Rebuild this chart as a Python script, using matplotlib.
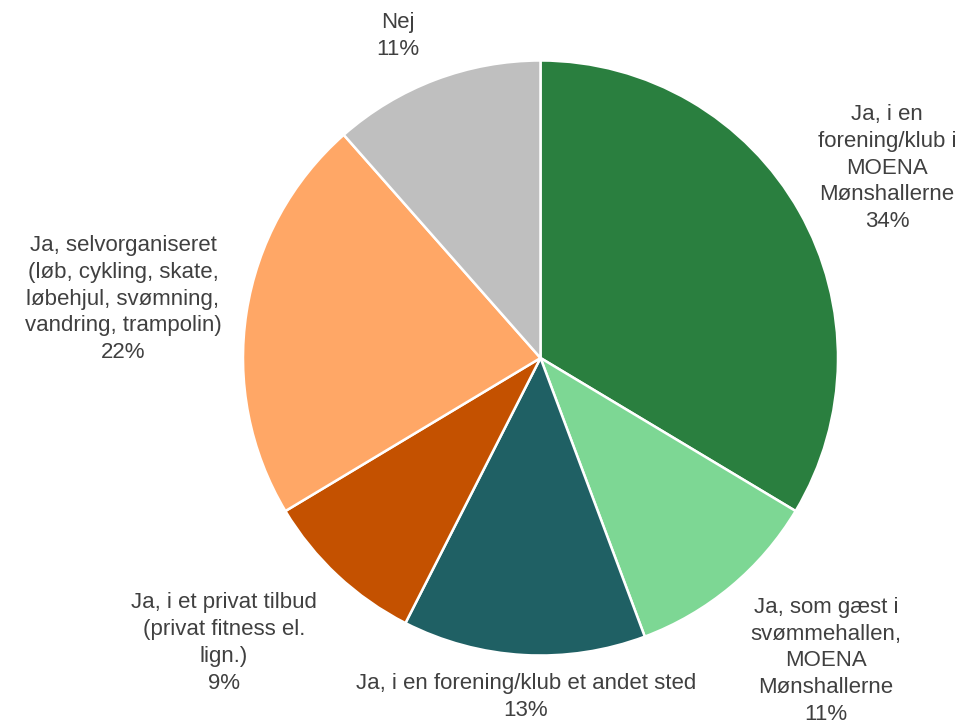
import matplotlib
matplotlib.use("Agg")
import matplotlib.pyplot as plt

labels = [
    "Ja, i en\nforening/klub i\nMOENA\nMønshallerne",
    "Ja, som gæst i\nsvømmehallen,\nMOENA\nMønshallerne",
    "Ja, i en forening/klub et andet sted",
    "Ja, i et privat tilbud\n(privat fitness el.\nlign.)",
    "Ja, selvorganiseret\n(løb, cykling, skate,\nløbehjul, svømning,\nvandring, trampolin)",
    "Nej",
]
values = [33.6, 10.7, 13.2, 8.9, 22.1, 11.5]
pct_labels = ["34%", "11%", "13%", "9%", "22%", "11%"]
colors = ["#2A7F3F", "#7DD794", "#1F6064", "#C45100", "#FFA766", "#BFBFBF"]

W, H = 966, 724
fig = plt.figure(figsize=(W / 100, H / 100), dpi=100)
ax = fig.add_axes([0, 0, 1, 1])

cx, cy, r = 540.5, H - 358, 297.5
ax.pie(values, colors=colors, startangle=90, counterclock=False,
       center=(cx, cy), radius=r, frame=True,
       wedgeprops=dict(edgecolor="white", linewidth=1.8))
ax.set_xlim(0, W)
ax.set_ylim(0, H)
ax.set_aspect("equal")
ax.axis("off")

# label centres in pixel coordinates (from top)
label_pos = [(887, 168), (826, 661), (526, 697), (224, 643), (123, 299), (398, 36)]
for lab, pct, (x, y) in zip(labels, pct_labels, label_pos):
    ax.text(x, H - y, lab + "\n" + pct, ha="center", va="center",
            fontsize=16, family="Liberation Sans", color="#404040",
            linespacing=1.36, multialignment="center")

fig.savefig("out.png", dpi=100)
